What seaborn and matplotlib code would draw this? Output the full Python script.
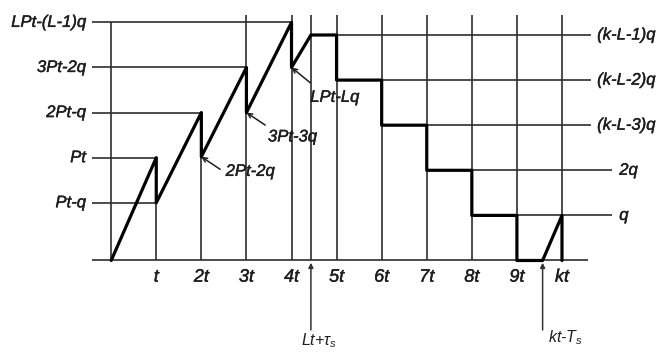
import matplotlib
matplotlib.use("Agg")
import matplotlib.pyplot as plt
import matplotlib.patheffects as pe
import seaborn as sns
import pandas as pd

# time axis (units of t)
tick_pos = [1, 2, 3, 4, 5, 6, 7, 8, 9, 10]
tick_labels = ["t", "2t", "3t", "4t", "5t", "6t", "7t", "8t", "9t", "kt"]

# build-up levels on the left
left_levels = [1.28, 2.28, 3.28, 4.28, 5.28]
left_labels = ["Pt-q", "Pt", "2Pt-q", "3Pt-2q", "LPt-(L-1)q"]
left_ends = [1, 1, 2, 3, 4]

# depletion levels on the right
right_levels = [5, 4, 3, 2, 1]
right_labels = ["(k-L-1)q", "(k-L-2)q", "(k-L-3)q", "2q", "q"]
right_starts = [4.43, 5, 6, 7, 8]

# special instants
lt_tau = 4.43
kt_ts = 9.57

# inventory path
path_x = [0, 1, 1, 2, 2, 3, 3, 4, 4, lt_tau, 5, 5, 6, 6, 7, 7, 8, 8, 9, 9, kt_ts, 10, 10]
path_y = [0, 2.28, 1.28, 3.28, 2.3, 4.28, 3.28, 5.28, 4.28, 5, 5, 4, 4, 3, 3, 2, 2, 1, 1, 0, 0, 1, 0]

# drop points that get a pointer label
drop_labels = ["2Pt-2q", "3Pt-3q", "LPt-Lq"]
drop_x = [2, 3, 4]
drop_y = [2.3, 3.28, 4.28]

# vertical grid lines
vline_x = [0, 1, 2, 3, 4, lt_tau, 5, 6, 7, 8, 9, 10]
vline_top = [5.28, 2.28, 3.28, 5.44, 5.44, 5.44, 5.44, 5.44, 5.44, 5.44, 5.44, 5.44]

sns.set_theme(style="white")
plt.rcParams["font.family"] = ["Liberation Sans", "DejaVu Sans"]
plt.rcParams["mathtext.fontset"] = "custom"
plt.rcParams["mathtext.it"] = "Liberation Sans:italic"
plt.rcParams["mathtext.rm"] = "Liberation Sans"

fig = plt.figure(figsize=(6.59, 3.52), dpi=100)
ax = fig.add_axes([0, 0, 1, 1])
ax.set_xlim(-2.4667, 12.152)
ax.set_ylim(-2.029, 5.776)
ax.axis("off")

ink = "#1e1e1e"
heavy = [pe.withStroke(linewidth=0.3, foreground=ink)]
thin = dict(color="#2e2e2e", lw=1.2, solid_capstyle="butt")
font = dict(fontsize=12, style="italic", color=ink, path_effects=heavy)

# baseline
ax.plot([-0.42, 10.57], [0, 0], **thin)

# verticals
for x, top in zip(vline_x, vline_top):
    ax.plot([x, x], [0, top], **thin)

# left levels
for lev, lab, end in zip(left_levels, left_labels, left_ends):
    ax.plot([-0.42, end], [lev, lev], **thin)
    ax.text(-0.56, lev, lab, ha="right", va="center", **font)

# right levels
for i, (lev, lab, start) in enumerate(zip(right_levels, right_labels, right_starts)):
    end = 10.64 if i < 3 else 11.11
    ax.plot([start, end], [lev, lev], **thin)
    ax.text(end + (0.14 if i < 3 else 0.16), lev, lab, ha="left", va="center", **font)

# inventory path
df = pd.DataFrame({"x": path_x, "y": path_y})
sns.lineplot(data=df, x="x", y="y", sort=False, estimator=None,
             color="black", lw=2.3, ax=ax)

# pointer labels on drops
for lab, x, y in zip(drop_labels, drop_x, drop_y):
    ax.annotate("", xy=(x, y), xytext=(13.5, -9 if lab != "LPt-Lq" else -11),
                textcoords="offset points",
                arrowprops=dict(arrowstyle="->", color=ink, lw=1.1,
                                shrinkA=0, shrinkB=0, mutation_scale=8))
    dy = {"2Pt-2q": -10.5, "3Pt-3q": -17.5, "LPt-Lq": -21.5}[lab]
    dx = {"2Pt-2q": 17.5, "3Pt-3q": 15.5, "LPt-Lq": 13.5}[lab]
    ax.annotate(lab, xy=(x, y), xytext=(dx, dy), textcoords="offset points",
                ha="left", va="center", **font)

# tick labels
for x, lab in zip(tick_pos, tick_labels):
    ax.text(x, -0.37, lab, ha="center", va="center", fontsize=13,
            style="italic", color=ink, path_effects=heavy)

# bottom arrows
for x in [lt_tau, kt_ts]:
    ax.annotate("", xy=(x, -0.05), xytext=(x, -1.54),
                arrowprops=dict(arrowstyle="-|>", color="#333333", lw=1.1,
                                shrinkA=0, shrinkB=0, mutation_scale=7))
small = dict(fontsize=11.5, style="italic", color=ink, ha="left", va="center")
ax.text(4.22, -1.785, "Lt+$\\tau_s$", **small)
ax.text(9.69, -1.72, "kt-$T_s$", **small)

fig.savefig("out.png", dpi=100)
